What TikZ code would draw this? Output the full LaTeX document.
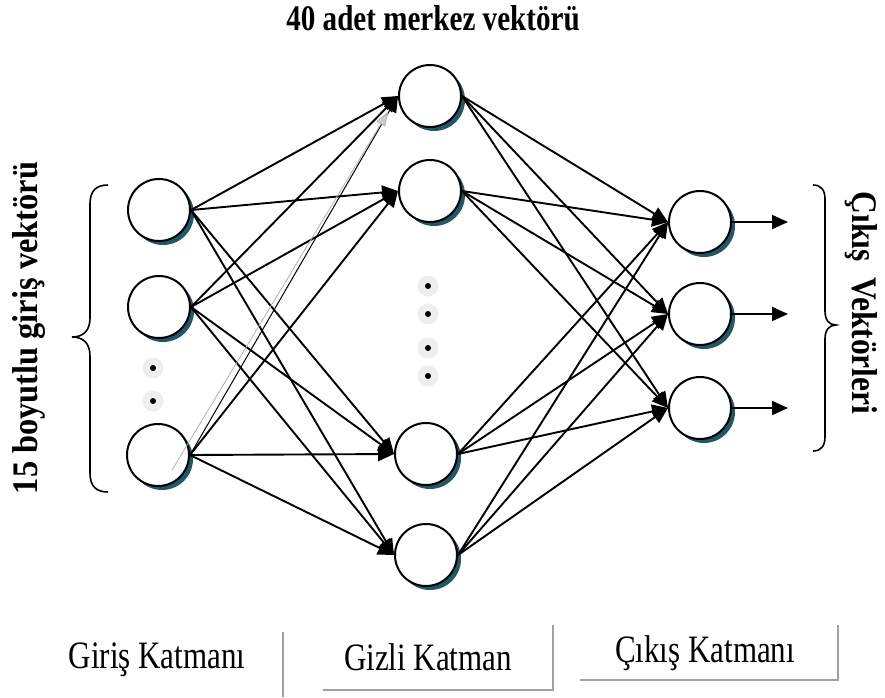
\documentclass[tikz,border=0pt]{standalone}
\usepackage{fontspec}
\setmainfont{Liberation Serif}
\usetikzlibrary{arrows.meta,shadows}
\definecolor{shadowteal}{RGB}{33,88,104}
\definecolor{dotgray}{RGB}{238,238,238}
\definecolor{boxgray}{RGB}{160,160,160}
\begin{document}
\begin{tikzpicture}[x=1pt,y=-1pt,
  neuron/.style={circle, draw=black, line width=2pt, fill=white, minimum size=62pt, inner sep=0pt,
     drop shadow={shadow xshift=4pt, shadow yshift=-4pt, fill=shadowteal, opacity=1}},
  conn/.style={line width=1.9pt, -{Triangle[length=16pt,width=14pt]}},
  thinconn/.style={line width=1pt, -{Triangle[length=16pt,width=14pt]}},
  ghost/.style={line width=0.8pt, draw=gray!60, -{Triangle[length=14pt,width=10pt,fill=gray!40]}},
  dotbg/.style={circle, fill=dotgray, minimum size=21pt, inner sep=0pt},
  brace/.style={line width=1.6pt},
  boldlabel/.style={font=\bfseries\fontsize{30}{36}\selectfont},
  layerlabel/.style={font=\fontsize{31}{38}\selectfont},
  shadowline/.style={draw=boxgray, line width=2.5pt}]
\useasboundingbox (0,0) rectangle (885,697);

% input layer
\node[neuron] (i1) at (159,210) {};
\node[neuron] (i2) at (159,307) {};
\node[neuron] (i3) at (158,455) {};
\node[dotbg] (di1) at (153,368) {};
\node[dotbg] (di2) at (153,401) {};
\fill (di1) circle (3pt);
\fill (di2) circle (3pt);

% hidden layer
\node[neuron] (h1) at (430,96) {};
\node[neuron] (h2) at (430,191) {};
\node[neuron] (h3) at (426,454) {};
\node[neuron] (h4) at (426,555) {};
\node[dotbg] (dh1) at (428,286) {};
\node[dotbg] (dh2) at (428,314) {};
\node[dotbg] (dh3) at (428,348) {};
\node[dotbg] (dh4) at (428,376) {};
\foreach \d in {dh1,dh2,dh3,dh4} \fill (\d) circle (3pt);

% output layer
\node[neuron] (o1) at (700,222) {};
\node[neuron] (o2) at (700,314) {};
\node[neuron] (o3) at (700,408) {};
\coordinate (e1) at (788,222);
\coordinate (e2) at (788,314);
\coordinate (e3) at (788,408);

% input -> hidden
\foreach \i in {i1,i2} {
  \foreach \h in {h1,h2,h3,h4} \draw[conn] (\i.east) -- (\h.west);
}
\draw[thinconn] (i3.east) -- (h1.west);
\foreach \h in {h2,h3,h4} \draw[conn] (i3.east) -- (\h.west);
\coordinate (g0) at (172,470);
\coordinate (g1) at (388,112);
\draw[ghost] (g0) -- (g1);

% hidden -> output
\foreach \h in {h1,h2,h3,h4} {
  \foreach \o in {o1,o2,o3} \draw[conn] (\h.east) -- (\o.west);
}
% outputs
\draw[conn] (o1.east) -- (e1);
\draw[conn] (o2.east) -- (e2);
\draw[conn] (o3.east) -- (e3);

% braces
\draw[brace] (108,185) .. controls (96,185) and (90,191) .. (90,204) -- (90,318)
  .. controls (90,331) and (83,337) .. (72,337) .. controls (83,337) and (90,343) .. (90,356)
  -- (90,473) .. controls (90,486) and (96,492) .. (108,492);
\draw[brace] (813,185) .. controls (821,185) and (825,190) .. (825,199) -- (825,311)
  .. controls (825,320) and (829,325) .. (836,325) .. controls (829,325) and (825,330) .. (825,339)
  -- (825,437) .. controls (825,446) and (821,451) .. (813,451);

% texts
\node[boldlabel] (title) at (433,18) {\scalebox{0.97}[1.2]{40 adet merkez vektörü}};
\node[boldlabel, rotate=90] (intext) at (29,328) {\scalebox{1.08}[1.2]{15 boyutlu giriş vektörü}};
\node[boldlabel, rotate=-90] (outtext) at (861,303) {\scalebox{1.05}[1.2]{Çıkış\ \ Vektörleri}};

\node[layerlabel] (l1) at (157,660) {\scalebox{1}[1.25]{Giriş Katmanı}};
\node[layerlabel] (l2) at (428,657) {\scalebox{1}[1.25]{Gizli Katman}};
\node[layerlabel] (l3) at (705,653) {\scalebox{1}[1.25]{Çıkış Katmanı}};
\draw[shadowline] (283,632) -- (283,697);
\draw[shadowline] (323,690) -- (553,690) -- (553,625);
\draw[shadowline] (580,680) -- (838,680) -- (838,625);
\end{tikzpicture}
\end{document}
